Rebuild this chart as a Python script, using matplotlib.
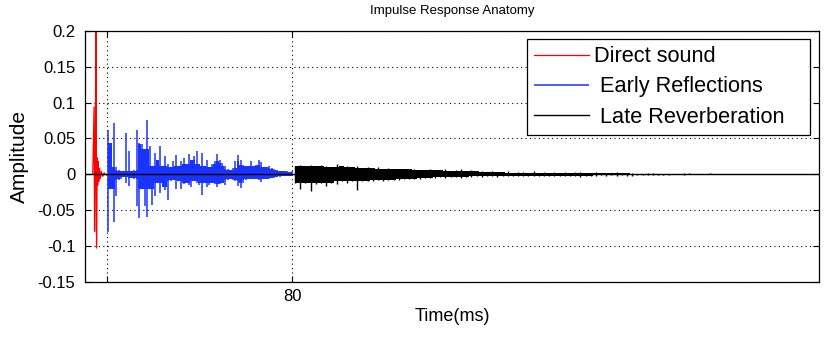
import numpy as np
import matplotlib.pyplot as plt

plt.rcParams['font.family'] = ['Liberation Sans', 'DejaVu Sans']

# Direct sound: sample times (ms) and amplitudes
direct_t = [3.0, 3.5, 3.7, 4.0, 4.25, 4.45, 4.7, 4.9, 5.1, 5.3, 5.6, 5.9,
            6.3, 6.8, 7.4, 8.0, 8.5]
direct_a = [0.0, 0.094, -0.080, 0.010, 0.32, -0.103, 0.023, -0.015, 0.018,
            -0.010, 0.008, -0.006, 0.004, -0.003, 0.002, -0.001, 0.0]

# Early reflections: positive / negative peak per 1 ms bin, 9..80 ms
early_t = np.arange(9, 81)
early_up = [0.062, 0.044, 0.071, 0.010, 0.006, 0.005, 0.004, 0.057, 0.032, 0.004,
            0.006, 0.062, 0.043, 0.042, 0.035, 0.076, 0.040, 0.012, 0.030, 0.020,
            0.040, 0.012, 0.025, 0.015, 0.010, 0.018, 0.027, 0.012, 0.018, 0.023,
            0.014, 0.028, 0.020, 0.025, 0.032, 0.015, 0.030, 0.012, 0.020, 0.010,
            0.015, 0.018, 0.028, 0.020, 0.016, 0.012, 0.008, 0.006, 0.009, 0.018,
            0.027, 0.020, 0.013, 0.012, 0.011, 0.018, 0.012, 0.013, 0.020, 0.017,
            0.010, 0.010, 0.012, 0.009, 0.008, 0.006, 0.005, 0.005, 0.004, 0.004,
            0.003, 0.004]
early_dn = [-0.080, -0.020, -0.066, -0.030, -0.008, -0.006, -0.004, -0.012, -0.016, -0.005,
            -0.006, -0.045, -0.061, -0.020, -0.045, -0.059, -0.020, -0.043, -0.030, -0.012,
            -0.026, -0.018, -0.022, -0.036, -0.010, -0.008, -0.020, -0.010, -0.020, -0.014,
            -0.012, -0.015, -0.018, -0.010, -0.012, -0.015, -0.029, -0.012, -0.018, -0.015,
            -0.012, -0.013, -0.018, -0.014, -0.012, -0.015, -0.008, -0.007, -0.008, -0.010,
            -0.017, -0.019, -0.012, -0.008, -0.006, -0.007, -0.006, -0.006, -0.008, -0.011,
            -0.006, -0.007, -0.006, -0.005, -0.005, -0.004, -0.004, -0.003, -0.003, -0.003,
            -0.003, -0.003]

# Late reverberation: positive / negative peak per 2 ms bin, 81..243 ms
late_t = np.arange(81, 244, 2)
late_up = [0.012, 0.013, 0.012, 0.013, 0.011, 0.013, 0.012, 0.010, 0.015, 0.011,
           0.012, 0.010, 0.011, 0.009, 0.010, 0.009, 0.010, 0.008, 0.009, 0.008,
           0.007, 0.008, 0.007, 0.007, 0.006, 0.006, 0.007, 0.006, 0.006, 0.007,
           0.005, 0.006, 0.007, 0.005, 0.006, 0.005, 0.005, 0.003, 0.004, 0.003,
           0.003, 0.004, 0.002, 0.003, 0.003, 0.002, 0.004, 0.002, 0.003, 0.002,
           0.003, 0.002, 0.003, 0.002, 0.003, 0.003, 0.002, 0.002, 0.003, 0.002,
           0.002, 0.002, 0.003, 0.002, 0.002, 0.002, 0.001, 0.001, 0.002, 0.002,
           0.001, 0.001, 0.001, 0.0, 0.0, 0.002, 0.002, 0.0, 0.0, 0.0,
           0.002, 0.0]
late_dn = [-0.012, -0.020, -0.012, -0.024, -0.014, -0.012, -0.017, -0.012, -0.013, -0.010,
           -0.012, -0.010, -0.022, -0.010, -0.009, -0.010, -0.008, -0.009, -0.008, -0.008,
           -0.008, -0.007, -0.007, -0.006, -0.006, -0.005, -0.005, -0.005, -0.004, -0.005,
           -0.004, -0.004, -0.005, -0.004, -0.004, -0.003, -0.004, -0.003, -0.003, -0.004,
           -0.002, -0.002, -0.003, -0.002, -0.002, -0.003, -0.002, -0.002, -0.003, -0.002,
           -0.002, -0.003, -0.002, -0.003, -0.002, -0.004, -0.002, -0.003, -0.002, -0.001,
           -0.002, -0.001, -0.002, -0.001, -0.002, -0.002, -0.001, -0.001, -0.001, -0.001,
           -0.001, -0.001, -0.001, 0.0, 0.0, -0.001, 0.0, 0.0, 0.0, 0.0,
           0.0, 0.0]

t_end = 283.0
yticks = [-0.15, -0.1, -0.05, 0, 0.05, 0.1, 0.15, 0.2]
ytick_labels = ['-0.15', '-0.1', '-0.05', '0', '0.05', '0.1', '0.15', '0.2']


def core(v):
    # smallest magnitude among each bin and its two neighbours
    v = np.asarray(v)
    left = np.r_[v[0], v[:-1]]
    right = np.r_[v[1:], v[-1]]
    return np.sign(v) * np.minimum.reduce([np.abs(v), np.abs(left), np.abs(right)])


fig = plt.figure(figsize=(8.3, 3.38), dpi=100)
ax = fig.add_axes([0.1024, 0.1666, 0.8843, 0.7417])

ax.plot(direct_t, direct_a, color='#ff0000', lw=0.9, label='Direct sound')

blue = '#1a33ff'
ax.fill_between(early_t, core(early_dn), core(early_up), step='mid', color=blue, lw=0)
ax.vlines(early_t, early_dn, early_up, color=blue, lw=1.1, label=' Early Reflections')

ax.fill_between(late_t, core(late_dn), core(late_up), step='mid', color='black', lw=0)
ax.vlines(late_t, late_dn, late_up, color='black', lw=1.0)
ax.plot([0, t_end], [0, 0], color='black', lw=1.0, label=' Late Reverberation   ')

ax.set_xlim(0, t_end)
ax.set_ylim(-0.15, 0.2)
ax.set_xticks([8.5, 80])
ax.set_xticklabels(['', '80'])
ax.set_yticks(yticks)
ax.set_yticklabels(ytick_labels)
ax.tick_params(direction='in', top=True, right=True, length=4, width=0.8,
               labelsize=12)
ax.tick_params(axis='y', pad=7)
ax.tick_params(axis='x', pad=5)
ax.grid(True, color='black', linestyle=(0, (1, 3)), linewidth=0.8)
for s in ax.spines.values():
    s.set_linewidth(0.9)

ax.set_title('Impulse Response Anatomy', fontsize=9.5, pad=12)
ax.set_xlabel('Time(ms)', fontsize=13, labelpad=3)
ax.set_ylabel('Amplitude', fontsize=15, labelpad=6)

leg = ax.legend(loc='upper right', bbox_to_anchor=(0.988, 0.968), borderaxespad=0,
                fontsize=15.7, handlelength=2.5, labelspacing=0.42, handletextpad=0.25,
                borderpad=0.33, fancybox=False, framealpha=1, edgecolor='black')
leg.get_frame().set_linewidth(0.9)

fig.savefig('out.png', dpi=100)
